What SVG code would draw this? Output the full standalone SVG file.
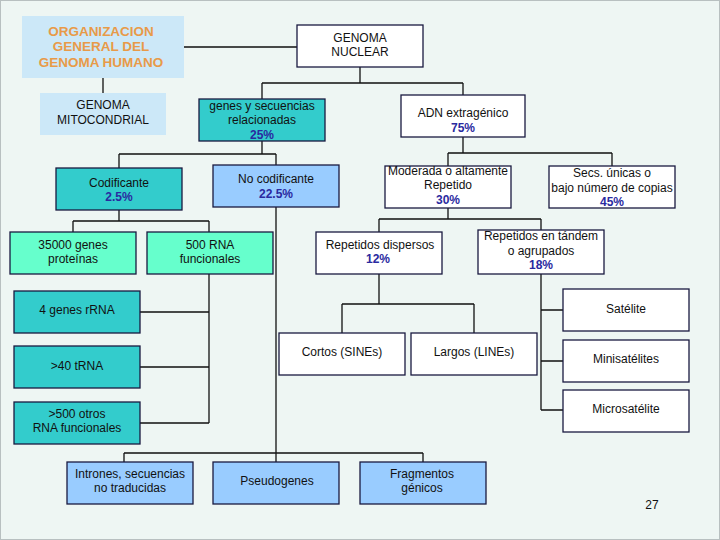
<svg xmlns="http://www.w3.org/2000/svg" width="720" height="540" viewBox="0 0 720 540">
<style>
text{font-family:"Liberation Sans",Arial,sans-serif;font-size:12px;fill:#111;text-anchor:middle}
.b{stroke:#1a1a40;stroke-width:1.3}
.w{fill:#fff}.t{fill:#33cccc}.l{fill:#99ccff}.g{fill:#66ffcc}
.p{fill:#2a2aa0;font-weight:bold}
.o{fill:#e89a48;font-weight:bold;font-size:13.5px}
.c{fill:none;stroke:#111;stroke-width:1.3}
</style>
<rect x="0.5" y="0.5" width="719" height="539" fill="#eef6f3" stroke="#b8c0c0"/>
<g id="connectors" class="c">
<path d="M184 47H297M103 78V93M360 67V83M262 83H463M262 83V99M463 83V95"/>
<path d="M262 141V154M119 154H276M119 154V168M276 154V165"/>
<path d="M463 137V153M448 153H612M448 153V166M612 153V166"/>
<path d="M119 210V221M73 221H209M73 221V232M209 221V232"/>
<path d="M209 274V423M140 312H209M140 367H209M140 423H209"/>
<path d="M276 207V453M124 453H423M124 453V462M276 453V462M423 453V462"/>
<path d="M448 208V219M379 219H541M379 219V232M541 219V230"/>
<path d="M379 274V304M342 304H474M342 304V333M474 304V333"/>
<path d="M541 274V410M541 310H563M541 361H563M541 410H563"/>
</g>
<g id="title"><rect x="22" y="16" width="162" height="62" fill="#cce8f8"/>
<text x="101" y="36" class="o">ORGANIZACION</text>
<text x="101" y="51" class="o">GENERAL DEL</text>
<text x="101" y="67" class="o">GENOMA HUMANO</text></g>
<g id="nuclear"><rect class="b w" x="297" y="25" width="126" height="42"/><text x="360" y="42">GENOMA</text><text x="360" y="56">NUCLEAR</text></g>
<g id="mito"><rect x="40" y="93" width="126" height="42" fill="#cce8f8"/><text x="103" y="109">GENOMA</text><text x="103" y="124">MITOCONDRIAL</text></g>
<g id="genes"><rect class="b t" x="199" y="99" width="126" height="42"/><text x="262" y="110">genes y secuencias</text><text x="262" y="124">relacionadas</text><text x="262" y="139" class="p">25%</text></g>
<g id="adn"><rect class="b w" x="401" y="95" width="124" height="42"/><text x="463" y="117">ADN  extragénico</text><text x="463" y="132" class="p">75%</text></g>
<g id="cod"><rect class="b t" x="56" y="168" width="126" height="42"/><text x="119" y="187">Codificante</text><text x="119" y="201" class="p">2.5%</text></g>
<g id="nocod"><rect class="b l" x="213" y="165" width="126" height="42"/><text x="276" y="183">No codificante</text><text x="276" y="198" class="p">22.5%</text></g>
<g id="moder"><rect class="b w" x="385" y="166" width="126" height="42"/><text x="448" y="175">Moderada o altamente</text><text x="448" y="189">Repetido</text><text x="448" y="204" class="p">30%</text></g>
<g id="secs"><rect class="b w" x="549" y="166" width="126" height="42"/><text x="612" y="177">Secs. únicas o</text><text x="612" y="192">bajo número de copias</text><text x="612" y="206" class="p">45%</text></g>
<g id="prot"><rect class="b g" x="10" y="232" width="126" height="42"/><text x="73" y="249">35000 genes</text><text x="73" y="263">proteínas</text></g>
<g id="rna500"><rect class="b g" x="147" y="232" width="126" height="42"/><text x="210" y="249">500 RNA</text><text x="210" y="263">funcionales</text></g>
<g id="disp"><rect class="b w" x="316" y="232" width="126" height="42"/><text x="380" y="249">Repetidos dispersos</text><text x="378" y="263" class="p">12%</text></g>
<g id="tand"><rect class="b w" x="478" y="230" width="126" height="44"/><text x="541" y="240">Repetidos en tándem</text><text x="541" y="255">o agrupados</text><text x="541" y="269" class="p">18%</text></g>
<g id="sat"><rect class="b w" x="563" y="289" width="126" height="42"/><text x="626" y="313">Satélite</text></g>
<g id="rrna"><rect class="b t" x="14" y="291" width="126" height="42"/><text x="77" y="314">4 genes rRNA</text></g>
<g id="cortos"><rect class="b w" x="279" y="333" width="126" height="42"/><text x="342" y="356">Cortos (SINEs)</text></g>
<g id="largos"><rect class="b w" x="411" y="333" width="126" height="42"/><text x="474" y="356">Largos (LINEs)</text></g>
<g id="mini"><rect class="b w" x="563" y="340" width="126" height="42"/><text x="626" y="363">Minisatélites</text></g>
<g id="trna"><rect class="b t" x="14" y="346" width="126" height="42"/><text x="77" y="370">&gt;40 tRNA</text></g>
<g id="micro"><rect class="b w" x="563" y="390" width="126" height="42"/><text x="626" y="413">Microsatélite</text></g>
<g id="otros"><rect class="b t" x="14" y="402" width="126" height="42"/><text x="77" y="418">&gt;500 otros</text><text x="77" y="432">RNA funcionales</text></g>
<g id="intr"><rect class="b l" x="67" y="462" width="126" height="42"/><text x="130" y="478">Intrones, secuencias</text><text x="130" y="492">no traducidas</text></g>
<g id="pseudo"><rect class="b l" x="213" y="462" width="126" height="42"/><text x="277" y="485">Pseudogenes</text></g>
<g id="frag"><rect class="b l" x="360" y="462" width="126" height="42"/><text x="422" y="478">Fragmentos</text><text x="422" y="492">génicos</text></g>
<text x="652" y="509">27</text>
</svg>
